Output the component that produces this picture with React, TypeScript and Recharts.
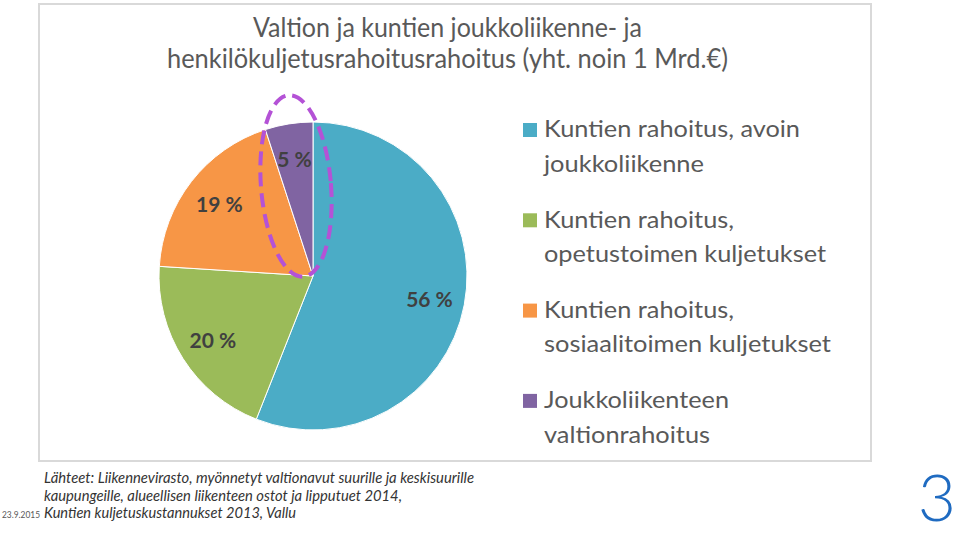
import React from 'react';
import { PieChart, Pie, Cell, Legend } from 'recharts';

// source values
const titleLines = [
  'Valtion ja kuntien joukkoliikenne- ja',
  'henkilökuljetusrahoitusrahoitus (yht. noin 1 Mrd.€)',
];
const legendLines = [
  ['Kuntien rahoitus, avoin', 'joukkoliikenne'],
  ['Kuntien rahoitus,', 'opetustoimen kuljetukset'],
  ['Kuntien rahoitus,', 'sosiaalitoimen kuljetukset'],
  ['Joukkoliikenteen', 'valtionrahoitus'],
];
const shares = [56, 20, 19, 5];
const sliceColors = ['#4bacc6', '#9bbb59', '#f79646', '#8064a2'];
const footerLines = [
  'Lähteet: Liikennevirasto, myönnetyt valtionavut suurille ja keskisuurille',
  'kaupungeille, alueellisen liikenteen ostot ja lipputuet 2014,',
  'Kuntien kuljetuskustannukset 2013, Vallu',
];
const dateText = '23.9.2015';
const pageNumber = '3';

const pieData = shares.map((v, i) => ({ name: legendLines[i].join(' '), value: v }));

const FONT = 'Lato, "Open Sans", sans-serif';
const RAD = Math.PI / 180;

const titleWidths = [389, 561];
const legendWidths = [
  [256, 160],
  [190, 282],
  [190, 287],
  [185, 166],
];
const footerWidths = [430, 358, 252];

const renderLabel = (props: any) => {
  const { cx, cy, midAngle, outerRadius, index } = props;
  const r = outerRadius * 0.77;
  const x = cx + r * Math.cos(-midAngle * RAD);
  const y = cy + r * Math.sin(-midAngle * RAD);
  return (
    <text
      x={x}
      y={y}
      textAnchor="middle"
      dominantBaseline="central"
      fill="#404040"
      fontFamily={FONT}
      fontWeight={700}
      fontSize={21}
    >
      {`${shares[index]} %`}
    </text>
  );
};

// legend drawn in data order; the payload order from recharts isn't reliable here
const LegendContent = () => (
  <svg width={340} height={360} style={{ display: 'block' }}>
    {legendLines.map((lines, i) => {
      const top = i * 90.3;
      return (
        <g key={i}>
          <rect x={3} y={top + 23} width={14} height={14} fill={sliceColors[i]} />
          {lines.map((line, j) => (
            <text
              key={j}
              x={24}
              y={top + 37.3 + j * 34.4}
              fill="#595959"
              fontFamily={FONT}
              fontSize={24}
              textLength={legendWidths[i][j]}
              lengthAdjust="spacingAndGlyphs"
            >
              {line}
            </text>
          ))}
        </g>
      );
    })}
  </svg>
);

export default function App() {
  return (
    <div style={{ position: 'absolute', left: 0, top: 0, width: 960, height: 537, background: '#fff', overflow: 'hidden' }}>
      <div
        style={{
          position: 'absolute',
          left: 38,
          top: 3,
          width: 834,
          height: 459,
          border: '2px solid #d9d9d9',
          boxSizing: 'border-box',
        }}
      />
      <div style={{ position: 'absolute', left: 0, top: 0 }}>
        <PieChart width={960} height={537} margin={{ top: 0, right: 0, bottom: 0, left: 0 }}>
          <Pie
            data={pieData}
            dataKey="value"
            nameKey="name"
            cx={313}
            cy={276}
            outerRadius={154}
            startAngle={90}
            endAngle={-270}
            stroke="#ffffff"
            strokeWidth={1}
            label={renderLabel}
            labelLine={false}
            isAnimationActive={false}
          >
            {pieData.map((_, i) => (
              <Cell key={i} fill={sliceColors[i]} />
            ))}
          </Pie>
          <Legend
            layout="vertical"
            verticalAlign="top"
            align="right"
            content={<LegendContent />}
            wrapperStyle={{ left: 520, top: 100, right: 'auto', width: 340, height: 360 }}
          />
        </PieChart>
      </div>
      <svg
        width={960}
        height={537}
        style={{ position: 'absolute', left: 0, top: 0, pointerEvents: 'none' }}
      >
        {titleLines.map((line, i) => (
          <text
            key={i}
            x={447.5}
            y={37 + i * 31}
            textAnchor="middle"
            fill="#595959"
            fontFamily={FONT}
            fontSize={26}
            textLength={titleWidths[i]}
            lengthAdjust="spacingAndGlyphs"
          >
            {line}
          </text>
        ))}
        <ellipse
          cx={296}
          cy={186}
          rx={35}
          ry={91}
          transform="rotate(-4.7 296 186)"
          fill="none"
          stroke="#b452d6"
          strokeWidth={4}
          strokeDasharray="14 7"
        />
        {footerLines.map((line, i) => (
          <text
            key={i}
            x={44}
            y={483 + i * 17.5}
            fill="#333333"
            fontFamily={FONT}
            fontStyle="italic"
            fontSize={15}
            textLength={footerWidths[i]}
            lengthAdjust="spacingAndGlyphs"
          >
            {line}
          </text>
        ))}
        <text x={2} y={518} fill="#595959" fontFamily={FONT} fontSize={10} textLength={38} lengthAdjust="spacingAndGlyphs">
          {dateText}
        </text>
        <text x={956} y={521} textAnchor="end" fill="#1f6bc1" fontFamily={FONT} fontWeight={300} fontSize={66}>
          {pageNumber}
        </text>
      </svg>
    </div>
  );
}
